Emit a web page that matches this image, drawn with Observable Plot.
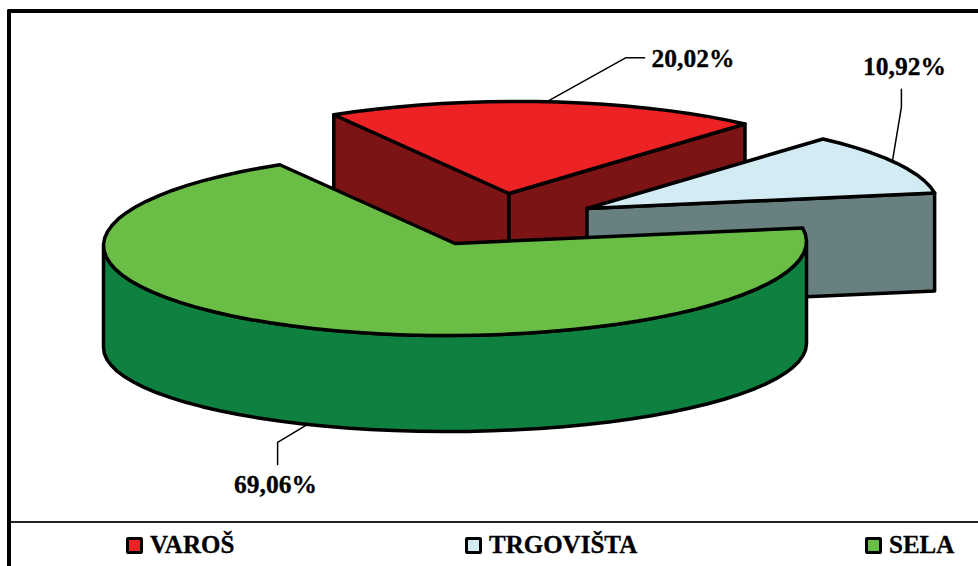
<!DOCTYPE html>
<html>
<head>
<meta charset="utf-8">
<script src="https://cdn.jsdelivr.net/npm/d3@7"></script>
<script src="https://cdn.jsdelivr.net/npm/@observablehq/plot@0.6"></script>
<style>
  html, body { margin: 0; padding: 0; background: #fff; overflow: hidden; }
  #page { position: relative; width: 978px; height: 566px; overflow: hidden; font-family: "Liberation Serif", serif; }
  #page svg { display: block; }
  #frame { position: absolute; left: 7px; top: 9px; width: 1000px; height: 600px; box-sizing: border-box;
           border-left: 4.5px solid #000; border-top: 4px solid #000; border-radius: 2px 0 0 0; }
  #legend { position: relative; height: 44px; margin-left: 11px; border-top: 2px solid #222; box-sizing: border-box; }
  .item { position: absolute; top: 6px; display: flex; align-items: center; font-weight: bold; font-size: 25px; line-height: 32px; color: #000; -webkit-text-stroke: 0.3px #000; }
  .swatch { width: 17px; height: 17px; box-sizing: border-box; border: 3px solid #000; border-radius: 2px; margin-right: 7px; }
</style>
</head>
<body>
<div id="page">
  <div id="chart"></div>
  <div id="legend"></div>
  <div id="frame"></div>
</div>
<script>
// ---- data ----
const categories = ["VAROŠ", "TRGOVIŠTA", "SELA"];
const shares = [20.02, 10.92, 69.06];
const shareLabels = ["20,02%", "10,92%", "69,06%"];

// ---- styling and layout ----
const topColors = ["#ed2224", "#d3ecf4", "#6abd45"];
const wallColors = ["#7c1416", "#68807f", "#0e8040"];
const centers = [[508.5, 193], [586.5, 208], [454.5, 243]];
const rx = 351.5, ry = 92, tilt = 2, depth = 98, firstAngle = -29.9;
const baseDrop = 102, baseRy = 86;
const legendLeft = [115, 454, 854];
const H = 521;

const rim = (c, deg, drop = 0, r = ry) => {
  const a = deg * Math.PI / 180;
  return {x: c[0] + rx * Math.sin(a), y: c[1] - r * Math.cos(a) - tilt * Math.sin(a) + drop};
};
const arc = (c, a0, a1, drop = 0, r = ry) => {
  const n = Math.max(2, Math.ceil(Math.abs(a1 - a0) / 4));
  return d3.range(n + 1).map(i => rim(c, a0 + (a1 - a0) * i / n, drop, r));
};
const apex = (c, drop = 0) => ({x: c[0], y: c[1] + drop});
const close = pts => [...pts, pts[0]];

let acc = firstAngle;
const slices = shares.map((s, i) => {
  const a0 = acc, a1 = acc + s * 3.6;
  acc = a1;
  return {i, a0, a1, mid: (a0 + a1) / 2, c: centers[i]};
});
const [red, blue, green] = slices;

const poly = (pts, fill, strokeWidth = 3.5) =>
  Plot.line(close(pts), {x: "x", y: "y", fill, stroke: "#000", strokeWidth, strokeLinejoin: "round", curve: "linear"});

const cutWall = (sl, a) => [apex(sl.c), rim(sl.c, a), rim(sl.c, a, depth), apex(sl.c, depth)];
const topFace = sl => [apex(sl.c), ...arc(sl.c, sl.a0, sl.a1)];

// leader lines start on the slice rim near its mid angle, then elbow toward the label
const redStart = rim(red.c, red.mid);
const blueStart = rim(blue.c, blue.mid - 1.5);
const greenStart = rim(green.c, green.mid - 1, baseDrop, baseRy);
const leaders = [
  [redStart, {x: redStart.x + 79, y: redStart.y - 44}, {x: redStart.x + 98, y: redStart.y - 44}],
  [blueStart, {x: blueStart.x + 9, y: blueStart.y - 54}, {x: blueStart.x + 9, y: blueStart.y - 72}],
  [greenStart, {x: greenStart.x - 30, y: greenStart.y + 18}, {x: greenStart.x - 30, y: greenStart.y + 40}]
];
const labelPts = [
  {x: 692.5, y: 58, text: shareLabels[0]},
  {x: 904, y: 66, text: shareLabels[1]},
  {x: 275, y: 484, text: shareLabels[2]}
];

const chart = Plot.plot({
  width: 978, height: H, margin: 0,
  x: {domain: [0, 978], range: [0, 978], axis: null},
  y: {domain: [0, H], range: [0, H], axis: null},
  style: {fontFamily: "'Liberation Serif', serif", background: "transparent"},
  marks: [
    poly(cutWall(red, red.a0), wallColors[0]),
    poly(cutWall(red, red.a1), wallColors[0]),
    poly(topFace(red), topColors[0]),
    poly(cutWall(blue, blue.a1), wallColors[1]),
    poly(topFace(blue), topColors[1]),
    poly([...arc(green.c, 90, 270), ...arc(green.c, 270, 90, baseDrop, baseRy)], wallColors[2]),
    poly(topFace(green), topColors[2]),
    ...leaders.map(l => Plot.line(l, {x: "x", y: "y", stroke: "#000", strokeWidth: 1.5, curve: "linear"})),
    Plot.text(labelPts, {x: "x", y: "y", text: "text", fontSize: 25.5, fontWeight: "bold", fill: "#000", stroke: "#000", strokeWidth: 0.3, textAnchor: "middle"})
  ]
});
document.getElementById("chart").append(chart);

const legend = document.getElementById("legend");
categories.forEach((name, i) => {
  const item = document.createElement("div");
  item.className = "item";
  item.style.left = legendLeft[i] + "px";
  const sw = document.createElement("span");
  sw.className = "swatch";
  sw.style.background = topColors[i];
  item.append(sw, name);
  legend.append(item);
});
</script>
</body>
</html>
